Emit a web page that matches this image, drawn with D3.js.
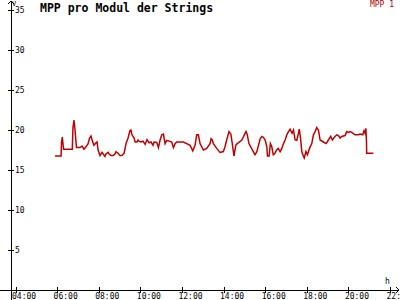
<!DOCTYPE html>
<html lang="de">
<head>
  <meta charset="utf-8">
  <title>MPP pro Modul der Strings</title>
  <script src="https://d3js.org/d3.v7.min.js"></script>
  <style>
    body { margin: 0; background: #fff; }
    .chart text { font-family: "DejaVu Sans Mono", monospace; fill: #000; }
    .chart .tick text { font-size: 8px; }
    .chart .tick line { stroke: #000; }
  </style>
</head>
<body>
  <div id="chart" class="chart"></div>
  <script>
    "use strict"

    // Uhrzeit (Stunden, dezimal) und MPP-Spannung
    var stunden = [5.90, 6.19, 6.21, 6.25, 6.31, 6.73, 6.76, 6.81, 6.86, 6.93, 7.10, 7.20, 7.29, 7.39,
      7.49, 7.56, 7.63, 7.68, 7.77, 7.87, 7.92, 7.97, 8.06, 8.16, 8.30, 8.35, 8.45, 8.50, 8.59, 8.69,
      8.78, 8.83, 8.93, 9.02, 9.12, 9.22, 9.26, 9.31, 9.41, 9.46, 9.50, 9.55, 9.60, 9.70, 9.75, 9.84,
      9.89, 9.94, 10.03, 10.13, 10.23, 10.32, 10.42, 10.51, 10.61, 10.66, 10.79, 10.87, 10.95, 11.03,
      11.11, 11.19, 11.27, 11.51, 11.59, 11.67, 11.75, 12.07, 12.39, 12.52, 12.63, 12.71, 12.79, 12.87,
      13.03, 13.19, 13.35, 13.40, 13.46, 13.51, 13.67, 13.83, 13.99, 14.07, 14.15, 14.26, 14.35, 14.42,
      14.50, 14.59, 14.66, 14.88, 15.04, 15.08, 15.14, 15.22, 15.43, 15.51, 15.60, 15.76, 15.84, 15.91,
      16.00, 16.08, 16.11, 16.19, 16.25, 16.32, 16.39, 16.47, 16.55, 16.63, 16.72, 16.80, 16.88, 16.96,
      17.04, 17.12, 17.20, 17.29, 17.36, 17.44, 17.52, 17.60, 17.64, 17.71, 17.76, 17.84, 17.88, 17.96,
      18.03, 18.13, 18.24, 18.32, 18.40, 18.48, 18.56, 18.64, 18.80, 18.93, 19.04, 19.15, 19.23, 19.36,
      19.44, 19.52, 19.60, 19.68, 19.84, 19.92, 20.00, 20.08, 20.16, 20.32, 20.48, 20.56, 20.69, 20.75,
      20.80, 20.84, 20.87, 20.88, 21.20];
    var spannung = [16.75, 16.75, 18.4, 19.1, 17.6, 17.6, 20.25, 21.25, 20.0, 17.8, 17.8, 18.0, 17.6, 17.9,
      18.3, 19.0, 19.25, 18.75, 18.1, 18.4, 18.5, 17.5, 16.8, 17.2, 16.7, 17.0, 17.2, 17.0, 16.8, 16.8,
      17.0, 17.3, 17.1, 16.8, 16.8, 17.1, 17.6, 18.3, 19.0, 19.5, 19.9, 20.0, 19.4, 19.0, 18.5, 18.5,
      18.75, 18.6, 18.5, 18.6, 18.2, 18.8, 18.4, 18.5, 18.1, 18.5, 18.46, 17.8, 18.75, 19.4,
      19.5, 18.3, 18.7, 18.5, 17.8, 18.3, 18.5, 18.5, 18.1, 17.4, 18.1, 19.4, 19.4, 18.3,
      17.5, 17.7, 18.3, 18.9, 18.75, 18.3, 17.7, 17.2, 17.3, 17.9, 18.75, 19.8, 19.5, 18.3,
      16.75, 18.1, 18.3, 18.75, 19.6, 19.8, 19.4, 18.3, 17.3, 16.9, 17.3, 18.9, 19.2, 19.1,
      18.75, 17.9, 16.75, 16.75, 18.3, 17.9, 16.9, 17.1, 17.5, 17.7, 17.3, 17.7, 18.3, 18.75,
      19.4, 19.8, 20.1, 19.6, 20.0, 18.75, 18.7, 19.6, 20.1, 18.75, 17.3, 16.7, 16.5, 17.3,
      16.9, 17.7, 18.3, 19.4, 19.8, 20.3, 20.0, 18.75, 18.5, 18.3, 18.75, 19.2, 18.75, 19.2,
      19.4, 19.3, 19.0, 19.2, 19.3, 19.8, 19.7, 19.8, 19.7, 19.4, 19.4, 19.5, 19.4, 19.9,
      19.6, 20.2, 18.5, 17.1, 17.1];

    var xTicks = [4, 6, 8, 10, 12, 14, 16, 18, 20, 22];
    var yTicks = [5, 10, 15, 20, 25, 30, 35];

    var dados = stunden.map((h, i) => ({ h: h, v: spannung[i] }));

    var larguraSVG = 400, alturaSVG = 300;
    var eixoX = 11, eixoY = 290;

    var svg = d3.select('#chart')
      .append('svg')
        .attr('width', larguraSVG)
        .attr('height', alturaSVG);

    var x = d3.scaleLinear().domain([4, 22]).range([15.5, 390]);
    var y = d3.scaleLinear().domain([0, 35]).range([eixoY, 10]);

    // Achsen
    var gx = svg.append('g')
      .attr('transform', 'translate(0,' + eixoY + ')')
      .call(d3.axisBottom(x).tickValues(xTicks).tickSize(0)
        .tickFormat(d => d3.format('02')(d) + ':00'));
    gx.select('.domain').remove();
    gx.selectAll('.tick line').attr('y1', -3).attr('y2', 3).attr('shape-rendering', 'crispEdges');
    gx.selectAll('.tick text').attr('y', 9).attr('dy', 0).attr('x', -4)
      .attr('text-anchor', 'start');

    var gy = svg.append('g')
      .attr('transform', 'translate(' + eixoX + ',0)')
      .call(d3.axisLeft(y).tickValues(yTicks).tickSize(0));
    gy.select('.domain').remove();
    gy.selectAll('.tick line').attr('x1', -3).attr('x2', 3).attr('shape-rendering', 'crispEdges');
    gy.selectAll('.tick text').attr('x', 4).attr('dy', '0.35em').attr('text-anchor', 'start');

    svg.append('path')
      .attr('d', 'M0,' + eixoY + 'H399 M396,' + (eixoY - 3) + 'L399,' + eixoY + 'L396,' + (eixoY + 3))
      .attr('fill', 'none').attr('stroke', '#000').attr('shape-rendering', 'crispEdges');
    svg.append('path')
      .attr('d', 'M' + eixoX + ',300V1 M' + (eixoX - 3) + ',4L' + eixoX + ',1L' + (eixoX + 3) + ',4')
      .attr('fill', 'none').attr('stroke', '#000').attr('shape-rendering', 'crispEdges');

    // Linie
    var linha = d3.line().x(d => x(d.h)).y(d => y(d.v));
    svg.append('path')
      .datum(dados)
      .attr('d', linha)
      .attr('fill', 'none')
      .attr('stroke', '#c00000')
      .attr('stroke-width', 1.5);

    // Beschriftung
    svg.append('text').attr('x', 40).attr('y', 12)
      .style('font-size', '11.5px').style('font-weight', 'bold')
      .text('MPP pro Modul der Strings');
    svg.append('text').attr('x', 394).attr('y', 7).attr('text-anchor', 'end')
      .style('font-size', '8px').style('fill', '#b00000')
      .text('MPP 1');
    svg.append('text').attr('x', 385).attr('y', 284).style('font-size', '8px').text('h');
    svg.append('text').attr('x', 12).attr('y', 6).style('font-size', '7px').text('V');
  </script>
</body>
</html>
